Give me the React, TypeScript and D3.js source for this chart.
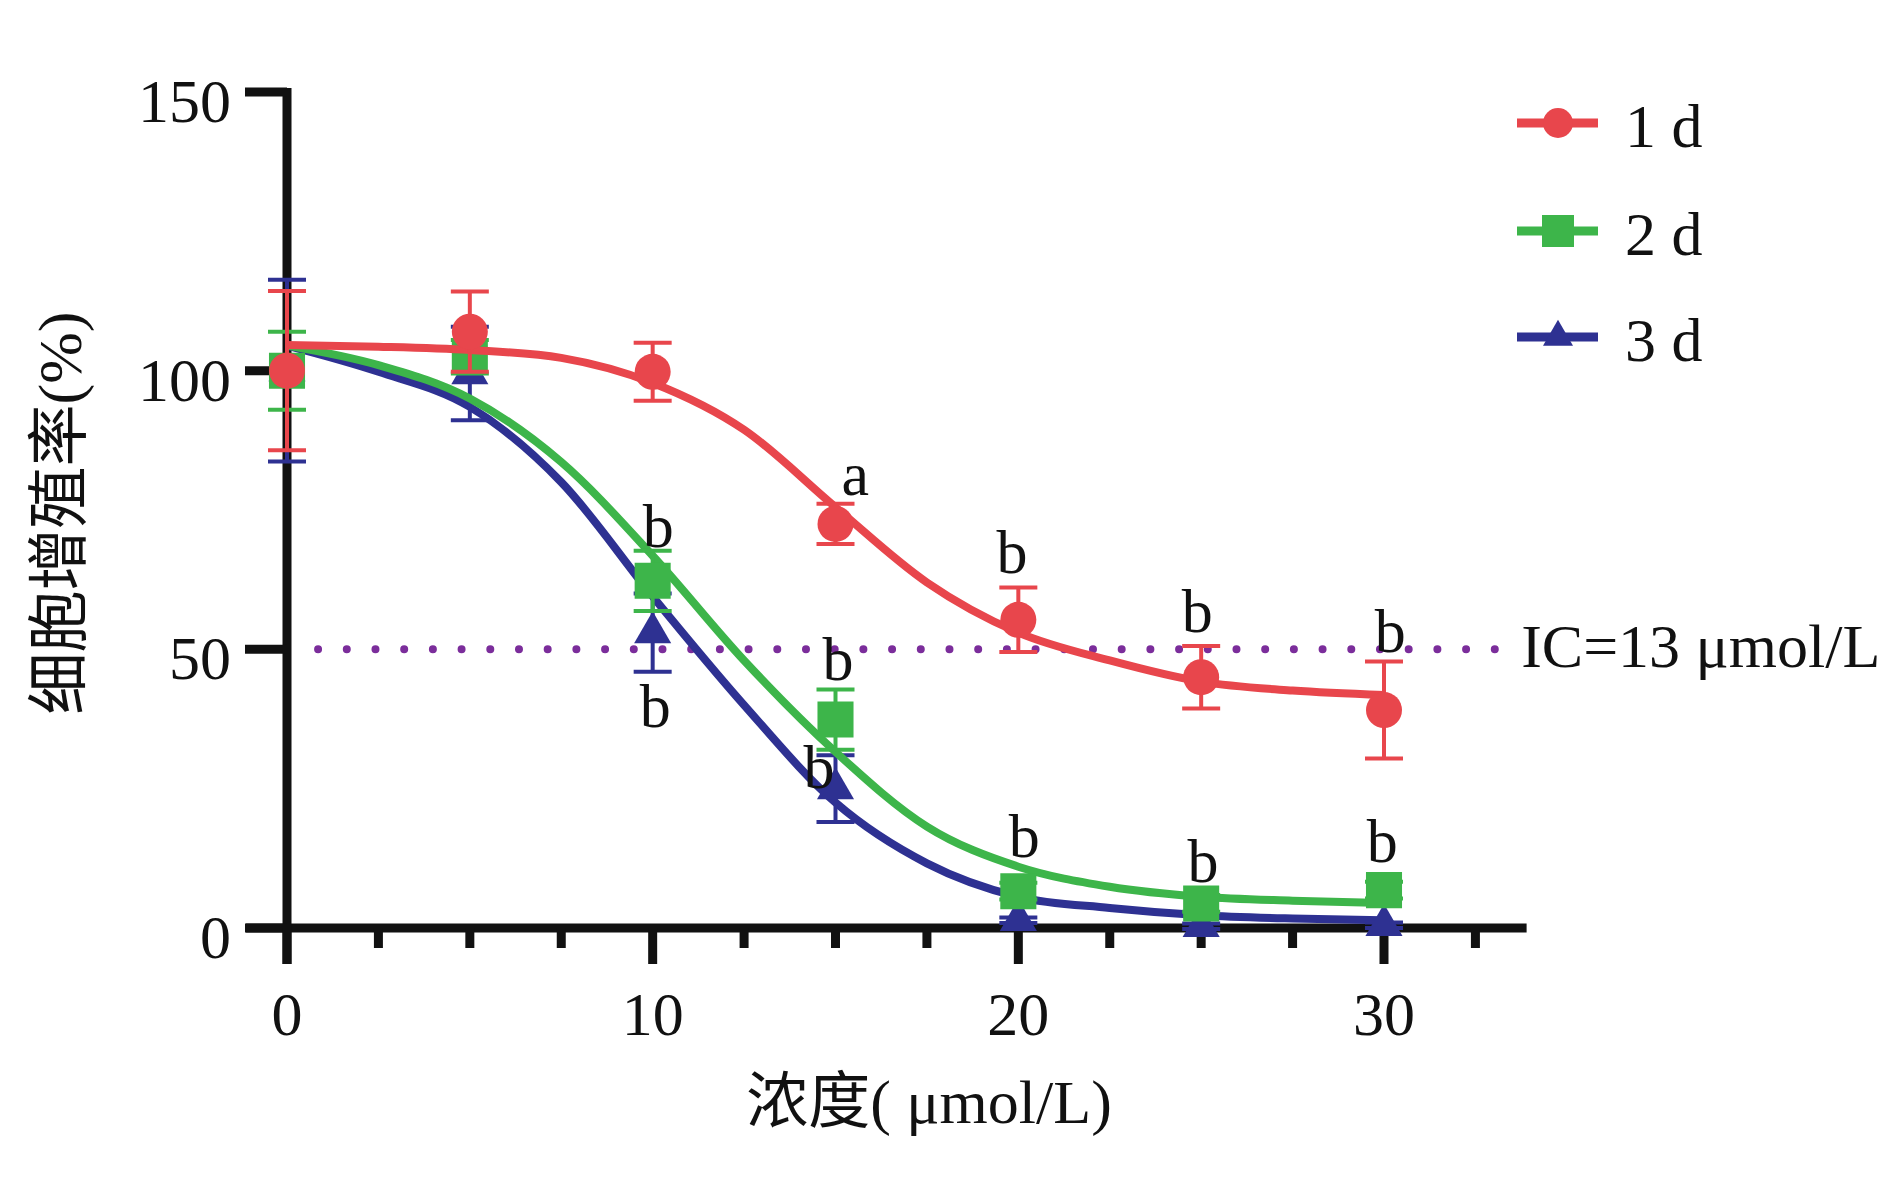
import * as d3 from "d3";

// concentration (µmol/L) of the measured points
const conc = [0, 5, 10, 15, 20, 25, 30];

const mean1d = [100, 107, 99.8, 72.5, 55.3, 45, 39.1];
const err1d = [14.3, 7.2, 5.2, 3.6, 5.8, 5.6, 8.7];
const mean2d = [100, 102.5, 62.3, 37.4, 6.6, 4.4, 6.8];
const err2d = [7, 3, 5.4, 5.4, 1.5, 1.5, 1.5];
const mean3d = [100, 99.5, 53, 25, 1.4, 0.3, 0.5];
const err3d = [16.3, 8.4, 7, 6, 0.5, 0.5, 0.5];

// fitted curves, sampled off the figure
const curveX = [0, 2.5, 5, 7.5, 10, 12.5, 15, 17.5, 20, 22.5, 25, 27.5, 30];
const curve1d = [104.6, 104.3, 103.7, 102.3, 97.8, 89.4, 75.5, 62, 53, 48, 44.2, 42.6, 41.8];
const curve2d = [104.5, 101, 95, 83.6, 66.8, 48, 31.6, 18.2, 11, 7.4, 5.6, 4.9, 4.5];
const curve3d = [104.5, 99.8, 93.5, 80, 59.5, 40, 22.5, 11.6, 5.6, 3.6, 2.3, 1.7, 1.4];

const seriesNames = ["1 d", "2 d", "3 d"];
const seriesColors = ["#e8464c", "#3db54a", "#2e3192"];

// significance letters (x, y in data units)
const letterText = ["a", "b", "b", "b", "b", "b", "b", "b", "b", "b", "b"];
const letterX = [15.54, 19.83, 24.89, 30.17, 10.15, 15.07, 20.16, 25.05, 29.95, 10.07, 14.55];
const letterY = [77.7, 63.7, 53.1, 49.5, 68.4, 44.5, 12.7, 8.3, 11.8, 36.1, 25.1];

const xMajorTicks = [0, 10, 20, 30];
const xMinorTicks = [2.5, 5, 7.5, 12.5, 15, 17.5, 22.5, 25, 27.5, 32.5];
const yTicks = [0, 50, 100, 150];
const xAxisSpan = [-1.12, 33.9];

const icValue = 50;
const icSpan = [0.85, 33.6];
const icLabel = "IC=13 μmol/L";

const FONT = "'Liberation Serif', 'Times New Roman', 'Noto Sans CJK SC', serif";

const x = d3.scaleLinear([0, 30], [287, 1384]);
const y = d3.scaleLinear([0, 150], [928, 92]);

const symbols = [d3.symbolCircle, d3.symbolSquare, d3.symbolTriangle];
const plotSizes = [1018, 1300, 595];
const legendSizes = [707, 1024, 390];

function Series({ i, means, errs, curve }: { i: number; means: number[]; errs: number[]; curve: number[] }) {
  const color = seriesColors[i];
  const line = d3
    .line<number>()
    .x((_, k) => x(curveX[k]))
    .y((v) => y(v))
    .curve(d3.curveMonotoneX);
  const sym = d3.symbol(symbols[i], plotSizes[i]);
  return (
    <g>
      <path d={line(curve) ?? ""} fill="none" stroke={color} strokeWidth={8} />
      <g stroke={color} strokeWidth={4}>
        {conc.map((c, k) => (
          <g key={k}>
            <line x1={x(c)} x2={x(c)} y1={y(means[k] + errs[k])} y2={y(means[k] - errs[k])} />
            <line x1={x(c) - 19} x2={x(c) + 19} y1={y(means[k] + errs[k])} y2={y(means[k] + errs[k])} />
            <line x1={x(c) - 19} x2={x(c) + 19} y1={y(means[k] - errs[k])} y2={y(means[k] - errs[k])} />
          </g>
        ))}
      </g>
      <g fill={color}>
        {conc.map((c, k) => (
          <path key={k} d={sym() ?? ""} transform={`translate(${x(c)},${y(means[k])})`} />
        ))}
      </g>
    </g>
  );
}

export default function App() {
  const legendY = [123, 231, 337];
  return (
    <svg
      width={1890}
      height={1181}
      style={{ position: "absolute", left: 0, top: 0, background: "#fff" }}
      fontFamily={FONT}
    >
      {/* axes */}
      <g stroke="#111" strokeWidth={9}>
        <line x1={x(xAxisSpan[0])} x2={x(xAxisSpan[1])} y1={y(0)} y2={y(0)} />
        <line x1={x(0)} x2={x(0)} y1={y(150) - 4} y2={y(0) + 36} />
        {yTicks.map((t) => (
          <line key={t} x1={x(0) - 42} x2={x(0)} y1={y(t)} y2={y(t)} />
        ))}
        {xMajorTicks.map((t) => (
          <line key={t} x1={x(t)} x2={x(t)} y1={y(0)} y2={y(0) + 36} />
        ))}
        {xMinorTicks.map((t) => (
          <line key={t} x1={x(t)} x2={x(t)} y1={y(0)} y2={y(0) + 20} />
        ))}
      </g>
      <g fontSize={62} fill="#111">
        {yTicks.map((t) => (
          <text key={t} x={x(0) - 56} y={y(t) + 30} textAnchor="end">
            {t}
          </text>
        ))}
        {xMajorTicks.map((t) => (
          <text key={t} x={x(t)} y={1035} textAnchor="middle">
            {t}
          </text>
        ))}
      </g>
      <text x={929} y={1123} fontSize={62} textAnchor="middle" fill="#111">
        浓度( μmol/L)
      </text>
      <text
        transform="translate(60,513) rotate(-90)"
        fontSize={62}
        textAnchor="middle"
        dominantBaseline="central"
        fill="#111"
      >
        细胞增殖率(%)
      </text>

      {/* IC50 reference line */}
      <line
        x1={x(icSpan[0])}
        x2={x(icSpan[1])}
        y1={y(icValue)}
        y2={y(icValue)}
        stroke="#7b2d9b"
        strokeWidth={8}
        strokeLinecap="round"
        strokeDasharray="0 28.7"
      />
      <text x={x(33.75)} y={y(icValue) + 18} fontSize={62} fill="#111">
        {icLabel}
      </text>

      <Series i={2} means={mean3d} errs={err3d} curve={curve3d} />
      <Series i={1} means={mean2d} errs={err2d} curve={curve2d} />
      <Series i={0} means={mean1d} errs={err1d} curve={curve1d} />

      {/* significance letters */}
      <g fontSize={62} fill="#111" textAnchor="middle">
        {letterText.map((t, k) => (
          <text key={k} x={x(letterX[k])} y={y(letterY[k])}>
            {t}
          </text>
        ))}
      </g>

      {/* legend */}
      {seriesNames.map((name, i) => (
        <g key={name}>
          <line x1={1517} x2={1598} y1={legendY[i]} y2={legendY[i]} stroke={seriesColors[i]} strokeWidth={9} />
          <path
            d={d3.symbol(symbols[i], legendSizes[i])() ?? ""}
            transform={`translate(1558,${legendY[i]})`}
            fill={seriesColors[i]}
          />
          <text x={1625} y={legendY[i] + 24} fontSize={62} fill="#111">
            {name}
          </text>
        </g>
      ))}
    </svg>
  );
}
